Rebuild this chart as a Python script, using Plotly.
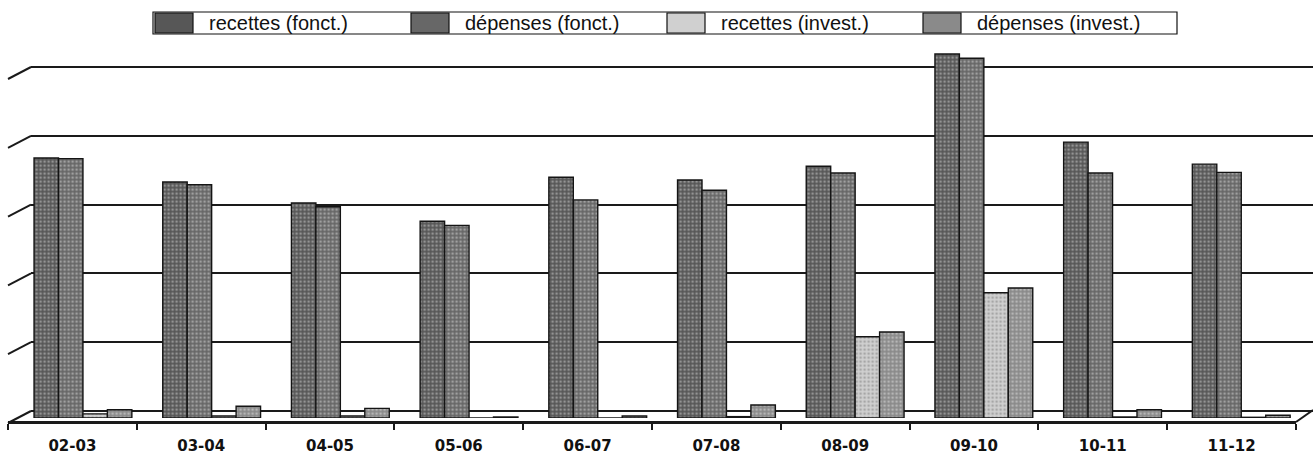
import plotly.graph_objects as go

# Budget by fiscal year (thousands)
years = ["02-03", "03-04", "04-05", "05-06", "06-07",
         "07-08", "08-09", "09-10", "10-11", "11-12"]
recettes_fonct = [3780, 3430, 3125, 2860, 3500, 3460, 3660, 5290, 4010, 3690]
depenses_fonct = [3770, 3390, 3070, 2800, 3170, 3310, 3560, 5230, 3560, 3570]
recettes_invest = [60, 30, 30, 0, 0, 20, 1180, 1820, 15, 10]
depenses_invest = [120, 170, 140, 15, 30, 190, 1250, 1890, 120, 40]

series_names = ["recettes (fonct.)", "dépenses (fonct.)",
                "recettes (invest.)", "dépenses (invest.)"]

grid_ticks = [0, 1000, 2000, 3000, 4000, 5000]

W, H = 1313, 457


def px_x(p):
    return p / W


def px_y(p):
    return (H - p) / H


# back wall: value 0 at y=411px, 5000 at y=67px, padded so edge lines show
wall_pad = 30
wall_scale = (411 - 67) / grid_ticks[-1]
wall_dom = [px_y(411 + wall_pad * wall_scale),
            px_y(67 - wall_pad * wall_scale)]
# bars: base at y=418px, same vertical scale
bar_top = 5500
bar_dom = [px_y(418), px_y(418 - bar_top * wall_scale)]

styles = [("#575757", "#d2d2d2"), ("#676767", "#dadada"),
          ("#d0d0d0", "#7c7c7c"), ("#8a8a8a", "#e2e2e2")]
values = [recettes_fonct, depenses_fonct, recettes_invest, depenses_invest]

fig = go.Figure()

# invisible trace so the wall subplot exists
fig.add_trace(go.Scatter(x=[0, 1], y=[0, 0], mode="markers", opacity=0,
                         showlegend=False, hoverinfo="skip",
                         xaxis="x", yaxis="y"))

for name, vals, (bg, fg) in zip(series_names, values, styles):
    fig.add_trace(go.Bar(
        name=name, x=years, y=vals, xaxis="x2", yaxis="y2",
        showlegend=False,
        marker=dict(color=bg,
                    line=dict(color="#141414", width=1.4),
                    pattern=dict(shape=".", fgcolor=fg, bgcolor=bg,
                                 size=4, solidity=0.35)),
    ))

# category labels on the front floor edge
fig.add_trace(go.Scatter(x=years, y=[0] * len(years), mode="markers",
                         opacity=0, showlegend=False, hoverinfo="skip",
                         xaxis="x3", yaxis="y2"))

shapes = []
annotations = []
# depth segments on the left side of each gridline
for v in grid_ticks:
    yb = px_y(411 - v * wall_scale)
    shapes.append(dict(type="line", xref="paper", yref="paper",
                       x0=px_x(8), y0=yb - 12 / H, x1=px_x(31), y1=yb,
                       line=dict(color="#1a1a1a", width=2)))
# right edge of the floor slab
shapes.append(dict(type="line", xref="paper", yref="paper",
                   x0=px_x(1296), y0=px_y(422), x1=px_x(1313), y1=px_y(410),
                   line=dict(color="#1a1a1a", width=2)))

# boxed legend row: a swatch cell then a label cell per series
leg_left, leg_right, leg_top, leg_bot = 153, 1177, 12, 34
leg_step, sw_w = 256, 38
shapes.append(dict(type="rect", xref="paper", yref="paper",
                   x0=px_x(leg_left), x1=px_x(leg_right),
                   y0=px_y(leg_bot), y1=px_y(leg_top),
                   fillcolor="white", line=dict(color="#111", width=1.2)))
for i, (name, (bg, fg)) in enumerate(zip(series_names, styles)):
    x0 = leg_left + 2 + i * leg_step
    shapes.append(dict(type="rect", xref="paper", yref="paper",
                       x0=px_x(x0), x1=px_x(x0 + sw_w),
                       y0=px_y(leg_bot - 1), y1=px_y(leg_top + 1),
                       fillcolor=bg, line=dict(color="#111", width=1.2)))
    annotations.append(dict(text=name, xref="paper", yref="paper",
                            x=px_x(x0 + sw_w + 14), y=px_y((leg_top + leg_bot) / 2),
                            xanchor="left", yanchor="middle", showarrow=False,
                            font=dict(family="Liberation Sans, Arial", size=20,
                                      color="#111")))

fig.update_layout(
    width=W, height=H,
    margin=dict(l=0, r=0, t=0, b=0),
    paper_bgcolor="white", plot_bgcolor="rgba(0,0,0,0)",
    barmode="group", bargap=0.24, bargroupgap=0,
    showlegend=False,
    xaxis=dict(domain=[px_x(31), 1], range=[0, 1], visible=False,
               fixedrange=True),
    yaxis=dict(domain=wall_dom, range=[-wall_pad, grid_ticks[-1] + wall_pad],
               tickvals=grid_ticks, showgrid=True, gridcolor="#1a1a1a",
               gridwidth=1.6, showticklabels=False, zeroline=False,
               showline=False, ticks=""),
    xaxis2=dict(domain=[px_x(18.6), px_x(1305.6)], anchor="y2",
                type="category", categoryarray=years,
                showticklabels=False, showgrid=False, showline=False,
                ticks="", zeroline=False),
    yaxis2=dict(domain=bar_dom, anchor="x2", range=[0, bar_top],
                visible=False),
    xaxis3=dict(domain=[px_x(8), px_x(1296)], anchor="free",
                position=px_y(422),
                type="category", categoryarray=years,
                range=[-0.5, len(years) - 0.5],
                showline=True, linecolor="#1a1a1a", linewidth=2.5,
                ticks="outside", tickson="boundaries", ticklen=6,
                tickcolor="#1a1a1a", tickwidth=2, showgrid=False,
                ticklabelstandoff=9,
                tickfont=dict(family="DejaVu Sans", size=15, color="#111",
                              weight="bold")),
    shapes=shapes,
    annotations=annotations,
)

fig.write_html("out.html")
